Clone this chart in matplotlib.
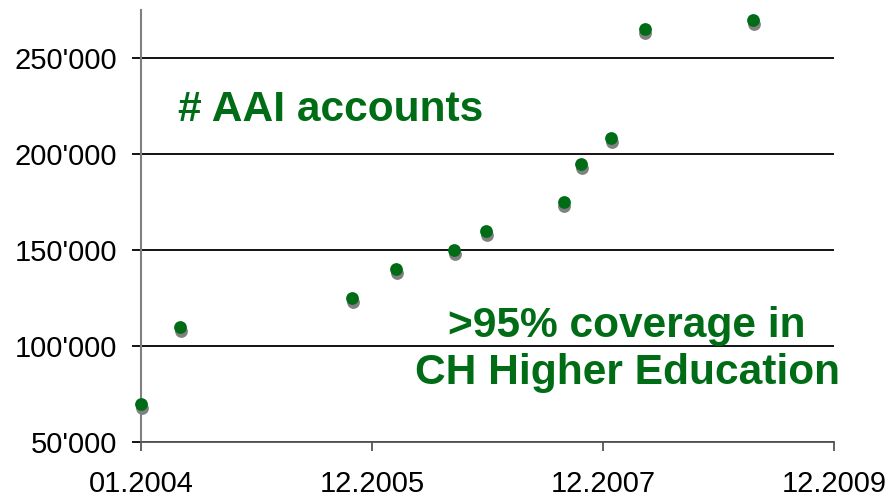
import matplotlib
matplotlib.use("Agg")
import matplotlib.pyplot as plt
from matplotlib.ticker import FuncFormatter
from matplotlib.transforms import offset_copy

# Data (decimal years, number of AAI accounts)
dates = [2004.00, 2004.34, 2005.83, 2006.21, 2006.71, 2006.99,
         2007.66, 2007.81, 2008.07, 2008.36, 2009.30]
accounts = [70000, 110000, 125000, 140000, 150000, 160000,
            175000, 195000, 208500, 265000, 270000]

x_ticks = [2004.0, 2006.0, 2008.0, 2010.0]
x_labels = ["01.2004", "12.2005", "12.2007", "12.2009"]
y_ticks = [50000, 100000, 150000, 200000, 250000]

GREEN = "#006d16"
FONT = "Liberation Sans"

fig = plt.figure(figsize=(8.88, 4.99), dpi=100)
W, H = 888, 499
left, right, bottom, top = 141, 834.3, 442.3, 10
ax = fig.add_axes([left / W, 1 - bottom / H, (right - left) / W, (bottom - top) / H])

ax.set_xlim(2004.0, 2010.0)
ax.set_ylim(50000, 275000)

# gridlines
ax.set_yticks(y_ticks)
ax.yaxis.grid(True, color="black", linewidth=1.3, zorder=1)
ax.set_axisbelow(True)

# shadow + points
shadow_tr = offset_copy(ax.transData, fig=fig, x=0.5, y=-4, units="dots")
ax.plot(dates, accounts, "o", color="#808080", markersize=9.2, markeredgewidth=0,
        transform=shadow_tr, zorder=3, clip_on=False)
ax.plot(dates, accounts, "o", color=GREEN, markersize=9.2, markeredgewidth=0,
        zorder=4, clip_on=False)

# spines
for s in ["top", "right"]:
    ax.spines[s].set_visible(False)
ax.spines["left"].set_color("#808080")
ax.spines["left"].set_linewidth(1.5)
ax.spines["left"].set_zorder(2)
ax.spines["bottom"].set_color("#555555")
ax.spines["bottom"].set_linewidth(1.3)

ax.set_xticks(x_ticks)
ax.set_xticklabels(x_labels)
ax.yaxis.set_major_formatter(FuncFormatter(lambda v, p: f"{int(v):,}".replace(",", "'")))

ax.tick_params(axis="y", length=6.5, width=1.3, color="black", pad=10.5,
               labelsize=21)
ax.tick_params(axis="x", length=6.5, width=1.3, color="#555555", pad=13.5,
               labelsize=21)
for lab in ax.get_xticklabels() + ax.get_yticklabels():
    lab.set_fontfamily(FONT)

# annotations
ax.text(0.0534, 0.743, "# AAI accounts", transform=ax.transAxes, color=GREEN,
        fontsize=30.6, fontweight="bold", fontfamily=FONT, ha="left", va="baseline")
ax.text(0.701, 0.244, ">95% coverage in", transform=ax.transAxes, color=GREEN,
        fontsize=30.6, fontweight="bold", fontfamily=FONT, ha="center", va="baseline")
ax.text(0.701, 0.135, "CH Higher Education", transform=ax.transAxes, color=GREEN,
        fontsize=30.6, fontweight="bold", fontfamily=FONT, ha="center", va="baseline")

fig.savefig("out.png", dpi=100)
